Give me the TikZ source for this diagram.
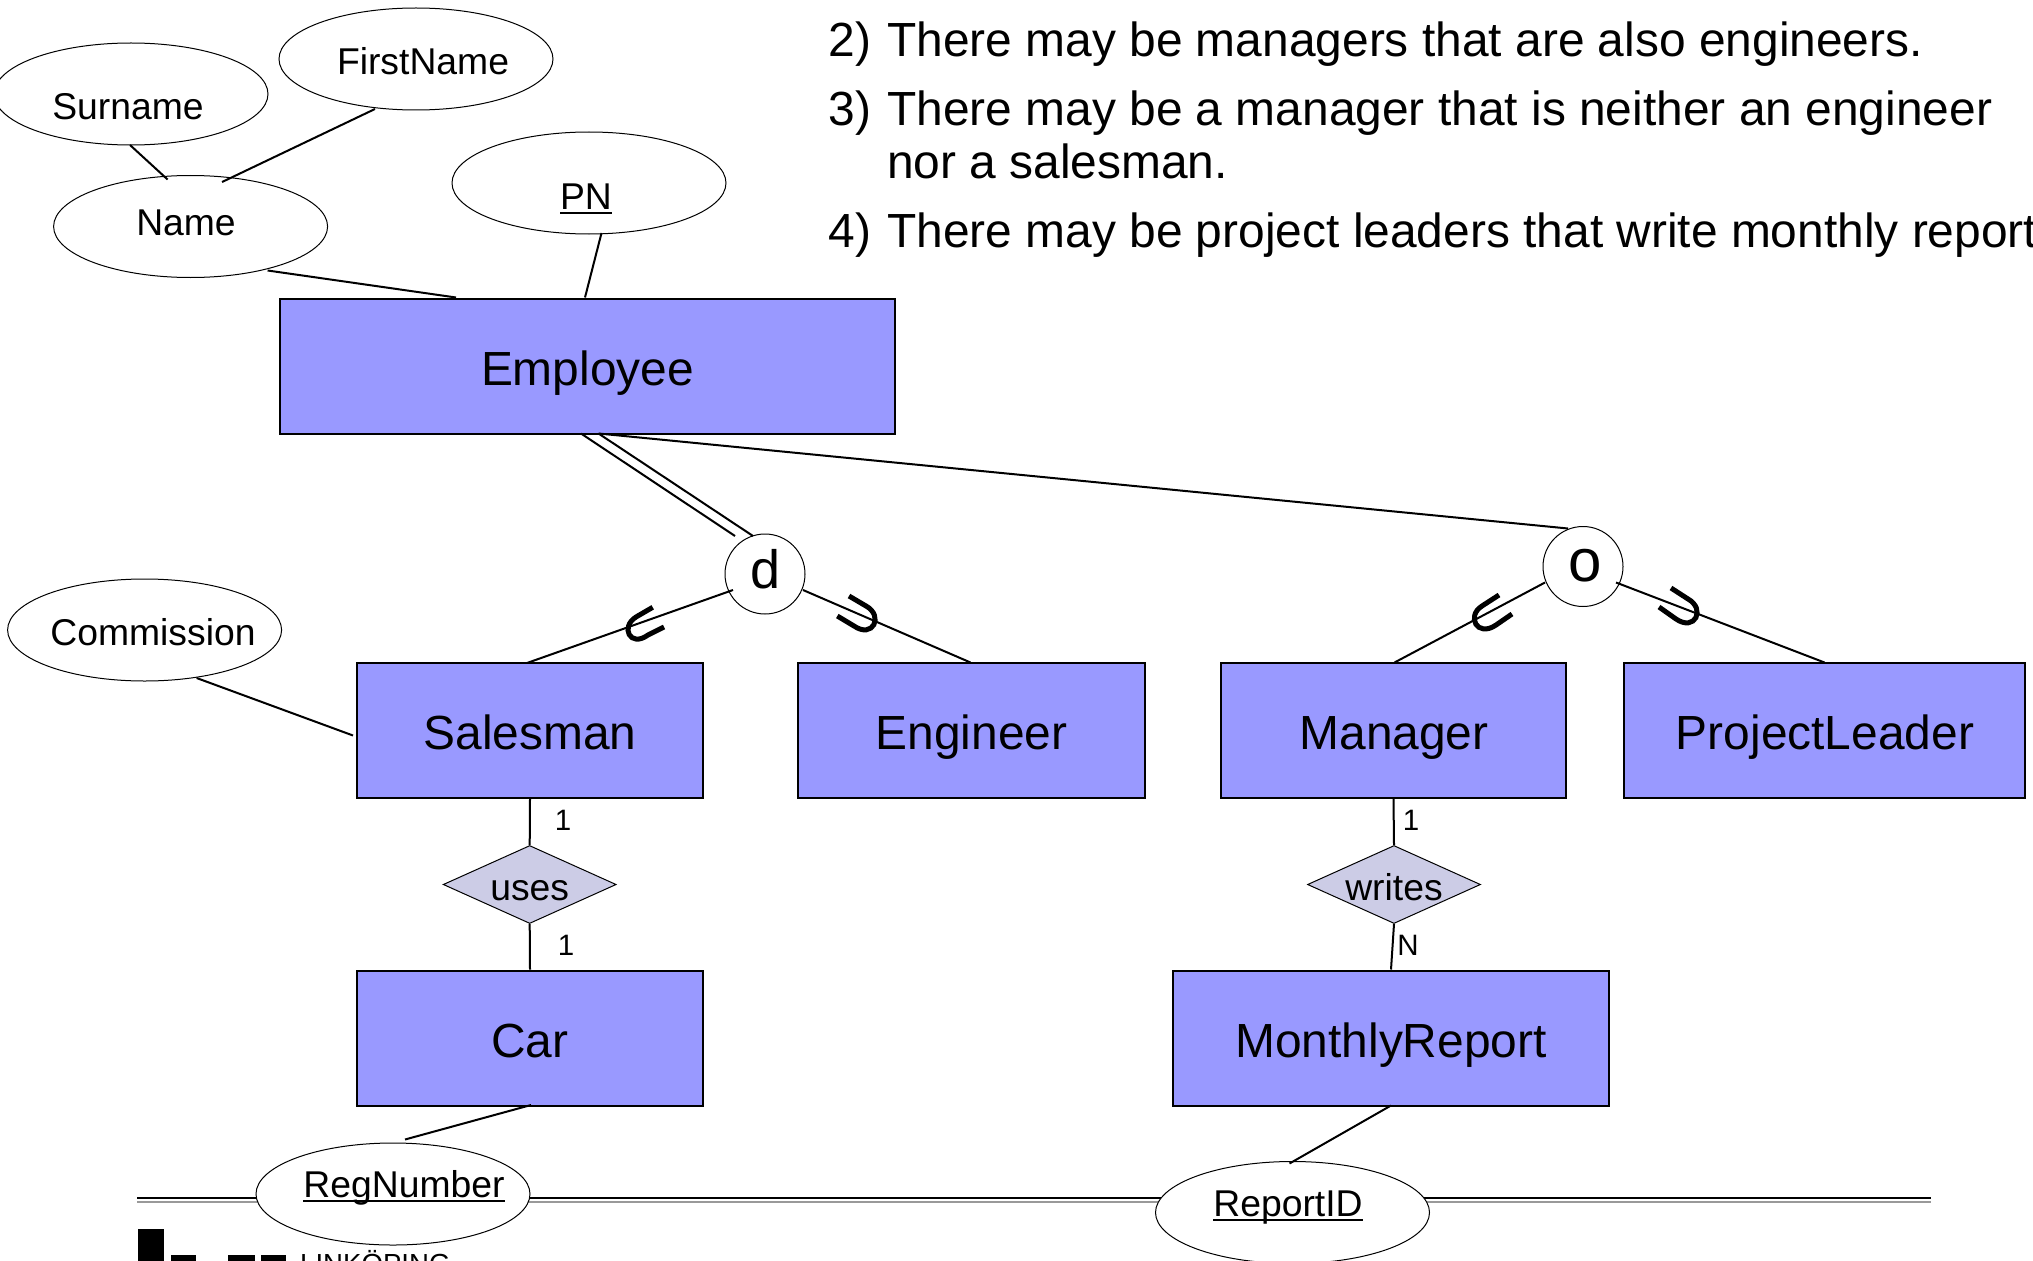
\documentclass[tikz,border=0pt]{standalone}
\usepackage{fontspec}
\setmainfont{Liberation Sans}
\usetikzlibrary{shapes.geometric}
\newsavebox\ulinebox
\newcommand\ulinetext[1]{\sbox\ulinebox{#1}\usebox\ulinebox\llap{\rule[-5pt]{\wd\ulinebox}{2.4pt}}}
\tikzset{
  x=1pt,y=-1pt,
  entity/.style={draw=black,line width=2pt,fill=entityblue,minimum width=#1,minimum height=135pt,inner sep=0pt},
  attr/.style={draw=black,line width=1pt,fill=white,ellipse,minimum width=274pt,minimum height=102pt,inner sep=0pt},
  rel/.style={draw=black,line width=1pt,fill=relblue,diamond,minimum width=173pt,minimum height=78pt,inner sep=0pt},
  gen/.style={draw=black,line width=1pt,fill=white,circle,minimum size=80pt,inner sep=0pt},
  txt/.style={anchor=base,inner sep=0pt,font=\fontsize{37.3}{40}\selectfont},
  enttxt/.style={anchor=base,inner sep=0pt,font=\fontsize{47.9}{50}\selectfont},
  big/.style={anchor=base west,inner sep=0pt,font=\fontsize{47.9}{50}\selectfont},
  card/.style={inner sep=0pt,font=\fontsize{29.5}{32}\selectfont},
  conn/.style={draw=black,line width=2pt},
  subsetmark/.style={draw=black,line width=5pt},
  rule/.style={line width=2pt}
}
\definecolor{entityblue}{HTML}{9999FF}
\definecolor{relblue}{HTML}{CCCCE6}
\begin{document}
\begin{tikzpicture}
\useasboundingbox (0,0) rectangle (2033,1260);
\clip (0,0) rectangle (2033,1260);
\fill[white] (0,0) rectangle (2033,1260);
% footer rules
\coordinate (ruleL) at (137,1198);
\coordinate (ruleR) at (1931,1198);
\coordinate (ruleL2) at (137,1202);
\coordinate (ruleR2) at (1931,1202);
\draw[rule,black] (ruleL) -- (ruleR);
\draw[rule,gray!80] (ruleL2) -- (ruleR2);
% logo
\fill (138,1229) rectangle (164,1262);
\fill (170.5,1255) rectangle (195.5,1262);
\fill (227.5,1255) rectangle (254.5,1262);
\fill (261,1255) rectangle (286,1262);
\node[anchor=base west,inner sep=0pt,font=\fontsize{27.6}{30}\selectfont] (logotext) at (300,1273.5) {LINKÖPING};
% ellipses
\node[attr] (surname) at (131,94) {};
\node[attr] (firstname) at (416,59) {};
\node[attr] (name) at (190.6,226.5) {};
\node[attr] (pn) at (589,183) {};
\node[attr] (commission) at (144.6,630) {};
\node[attr] (regnumber) at (393,1194) {};
\node[attr] (reportid) at (1292.5,1212.5) {};
\node[txt] (surnameT) at (128,120) {Surname};
\node[txt] (firstnameT) at (423,75) {FirstName};
\node[txt] (nameT) at (186,235) {Name};
\node[txt] (pnT) at (586,209) {\ulinetext{PN}};
\node[txt] (commissionT) at (153,645) {Commission};
\node[txt] (regnumberT) at (404,1197) {\ulinetext{RegNumber}};
\node[txt] (reportidT) at (1288,1216) {\ulinetext{ReportID}};
% entities
\node[entity=615pt] (employee) at (587.5,366) {};
\node[entity=346.5pt] (salesman) at (530,730.5) {};
\node[entity=346.5pt] (engineer) at (971.5,730.5) {};
\node[entity=345.5pt] (manager) at (1393.5,730.5) {};
\node[entity=400.5pt] (leader) at (1824.5,730.5) {};
\node[entity=346.5pt] (car) at (530,1038) {};
\node[entity=436pt] (report) at (1391,1038) {};
\node[enttxt] (employeeT) at (587.5,385) {Employee};
\node[enttxt] (salesmanT) at (530,749) {Salesman};
\node[enttxt] (engineerT) at (971.5,749) {Engineer};
\node[enttxt] (managerT) at (1394,749) {Manager};
\node[enttxt] (leaderT) at (1825,749) {ProjectLeader};
\node[enttxt] (carT) at (530,1057) {Car};
\node[enttxt] (reportT) at (1391,1057) {MonthlyReport};
% relationships
\node[rel] (uses) at (529.7,884.5) {};
\node[rel] (writes) at (1394,884.5) {};
\node[txt] (usesT) at (529.7,900) {uses};
\node[txt] (writesT) at (1394,900) {writes};
% generalisation circles
\node[gen] (d) at (765,574) {};
\node[gen] (o) at (1583,566.5) {};
\node[anchor=base,inner sep=0pt,font=\fontsize{54}{56}\selectfont] (dT) at (766,588) {d};
\node[anchor=base,inner sep=0pt,font=\fontsize{60}{62}\selectfont] (oT) at (1585,581) {o};
% connectors
\draw[conn] ([shift={(77,44)}]name.center) -- ([shift={(-131.5,-68.5)}]employee.center);
\draw[conn] ([shift={(12.5,50)}]pn.center) -- ([shift={(-2.5,-68.5)}]employee.center);
\draw[conn] ([shift={(-1,51)}]surname.center) -- ([shift={(-23,-47)}]name.center);
\draw[conn] ([shift={(-41,50)}]firstname.center) -- ([shift={(31.5,-44.5)}]name.center);
\draw[conn] ([shift={(52,48)}]commission.center) -- ([shift={(-177,5)}]salesman.center);
\draw[conn] ([shift={(-6.5,67.5)}]employee.center) -- ([shift={(-30,-38)}]d.center);
\draw[conn] ([shift={(11,67.5)}]employee.center) -- ([shift={(-12,-38)}]d.center);
\draw[conn] ([shift={(11,67.5)}]employee.center) -- ([shift={(-15,-38)}]o.center);
\draw[conn] ([shift={(-32,16)}]d.center) -- ([shift={(-3,-67.5)}]salesman.center);
\draw[conn] ([shift={(38,16)}]d.center) -- ([shift={(-1,-68)}]engineer.center);
\draw[conn] ([shift={(-38,16)}]o.center) -- ([shift={(1,-68)}]manager.center);
\draw[conn] ([shift={(33,16)}]o.center) -- ([shift={(0,-68)}]leader.center);
\draw[conn] (salesman.south) -- (uses.north);
\draw[conn] (uses.south) -- (car.north);
\draw[conn] (manager.south) -- (writes.north);
\draw[conn] (writes.south) -- (report.north);
\draw[conn] ([shift={(1,67)}]car.center) -- ([shift={(12,-54.5)}]regnumber.center);
\draw[conn] ([shift={(0,67.5)}]report.center) -- ([shift={(-3,-49)}]reportid.center);
% subset marks
\coordinate (s1) at (652.7,607.3);
\coordinate (s2) at (664,627);
\draw[subsetmark] (s1) -- (636,617) .. controls (620,627) and (630,648) .. (648,635) -- (s2);
\coordinate (s3) at (849,596);
\coordinate (s4) at (837.3,616);
\draw[subsetmark] (s3) -- (866,606) .. controls (884,616) and (873,639) .. (854,626) -- (s4);
\coordinate (s5) at (1499,595);
\coordinate (s6) at (1512,614);
\draw[subsetmark] (s5) -- (1482,606) .. controls (1466,616) and (1477,638) .. (1496,625) -- (s6);
\coordinate (s7) at (1671,588);
\coordinate (s8) at (1659,607);
\draw[subsetmark] (s7) -- (1688,599) .. controls (1706,609) and (1695,632) .. (1676,619) -- (s8);
% cardinalities
\node[card] (c1) at (563,820) {1};
\node[card] (c2) at (566,945.5) {1};
\node[card] (c3) at (1411,820) {1};
\node[card] (c4) at (1408,945.5) {N};
% heading text
\node[big] (n2) at (828.5,57) {2)};
\node[big] (t2) at (887,57) {There may be managers that are also engineers.};
\node[big] (n3) at (828.5,125.5) {3)};
\node[big] (t3) at (887,125.5) {There may be a manager that is neither an engineer};
\node[big] (t3b) at (887,178.5) {nor a salesman.};
\node[big] (n4) at (828.5,247) {4)};
\node[big] (t4) at (887,247) {There may be project leaders that write monthly reports.};
\end{tikzpicture}
\end{document}
